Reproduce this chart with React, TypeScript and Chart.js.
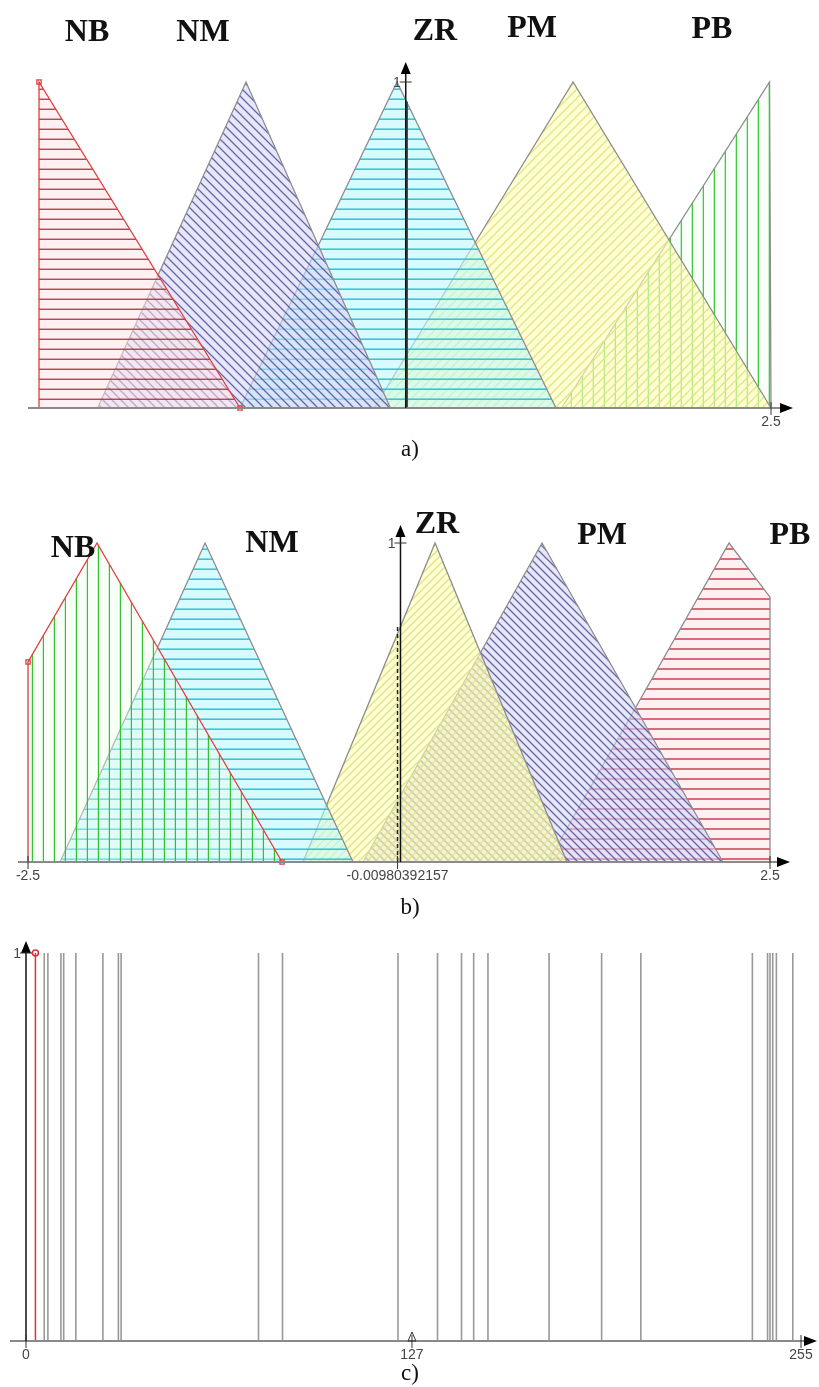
import React, { useEffect, useRef } from 'react';
import { Chart, registerables } from 'chart.js';
Chart.register(...registerables);

type P = [number, number];

// ---------- Panel a) : input fuzzy sets (x, membership) ----------
const aLabels = ['NB', 'NM', 'ZR', 'PM', 'PB'];
const aNB: P[] = [[-2.5, 0], [-2.5, 1], [-1.127, 0]];
const aNM: P[] = [[-2.1, 0], [-1.086, 1], [-0.1, 0]];
const aZR: P[] = [[-1.127, 0], [-0.055, 1], [1.031, 0]];
const aPM: P[] = [[-0.21, 0], [1.148, 1], [2.5, 0]];
const aPB: P[] = [[1.07, 0], [2.49, 1], [2.5, 0]];
const aCrisp: P[] = [[0.012, 0], [0.012, 0.94]];
const aXTicks = [{ v: 2.5, label: '2.5' }];
const aYTicks = [{ v: 1, label: '1' }];

// ---------- Panel b) : output fuzzy sets ----------
const bLabels = ['NB', 'NM', 'ZR', 'PM', 'PB'];
const bNB: P[] = [[-2.5, 0], [-2.5, 0.627], [-2.035, 1], [-0.788, 0]];
const bNM: P[] = [[-2.284, 0], [-1.307, 1], [-0.31, 0]];
const bZR: P[] = [[-0.647, 0], [0.243, 1], [1.132, 0]];
const bPM: P[] = [[-0.243, 0], [0.964, 1], [2.183, 0]];
const bPB: P[] = [[1.004, 0], [2.224, 1], [2.5, 0.83], [2.5, 0]];
const bCrisp: P[] = [[-0.0098, 0], [-0.0098, 0.74]];
const bXTicks = [
  { v: -2.5, label: '-2.5' },
  { v: -0.0098, label: '-0.00980392157' },
  { v: 2.5, label: '2.5' },
];
const bYTicks = [{ v: 1, label: '1' }];

// ---------- Panel c) : singleton outputs 0..255 ----------
const cSpikes = [6, 7.2, 11.5, 12.4, 16.4, 25.3, 30.4, 31.3, 76.5, 84.4, 122.4, 135.4, 143.3, 147.3, 152, 172.1, 189.4, 202.3, 239, 244, 244.8, 245.7, 246.9, 252.3];
const cActive = [3.1];
const cXTicks = [
  { v: 0, label: '0' },
  { v: 127, label: '127' },
  { v: 255, label: '255' },
];
const cYTicks = [{ v: 1, label: '1' }];

type Kind = 'h' | 'v' | 'up' | 'down';
function hatch(ctx: CanvasRenderingContext2D, fill: string, line: string, kind: Kind, gap: number, lw = 1.4) {
  const c = document.createElement('canvas');
  c.width = gap;
  c.height = gap;
  const g = c.getContext('2d')!;
  g.fillStyle = fill;
  g.fillRect(0, 0, gap, gap);
  g.strokeStyle = line;
  g.lineWidth = lw;
  g.beginPath();
  if (kind === 'h') {
    g.moveTo(0, gap - 1);
    g.lineTo(gap, gap - 1);
  } else if (kind === 'v') {
    g.moveTo(gap - 1, 0);
    g.lineTo(gap - 1, gap);
  } else if (kind === 'up') {
    g.moveTo(-1, gap + 1);
    g.lineTo(gap + 1, -1);
    g.moveTo(-1, 1);
    g.lineTo(1, -1);
    g.moveTo(gap - 1, gap + 1);
    g.lineTo(gap + 1, gap - 1);
  } else {
    g.moveTo(-1, -1);
    g.lineTo(gap + 1, gap + 1);
    g.moveTo(gap - 1, -1);
    g.lineTo(gap + 1, 1);
    g.moveTo(-1, gap - 1);
    g.lineTo(1, gap + 1);
  }
  g.stroke();
  return ctx.createPattern(c, 'repeat')!;
}

const decoPlugin = {
  id: 'deco',
  afterDatasetsDraw(chart: any, _args: any, o: any) {
    const ctx: CanvasRenderingContext2D = chart.ctx;
    const xs = chart.scales.x;
    const ys = chart.scales.y;
    const ca = chart.chartArea;
    const y0 = ys.getPixelForValue(0);
    const y1 = ys.getPixelForValue(1);
    const ax = xs.getPixelForValue(o.yAxisAt);
    ctx.save();
    // x axis
    const xl = ca.left - o.extLeft;
    const xr = ca.right + o.extRight;
    ctx.strokeStyle = o.xAxisColor;
    ctx.lineWidth = 2;
    ctx.beginPath();
    ctx.moveTo(xl, y0);
    ctx.lineTo(xr - 8, y0);
    ctx.stroke();
    ctx.fillStyle = '#000';
    ctx.beginPath();
    ctx.moveTo(xr, y0);
    ctx.lineTo(xr - 13, y0 - 5);
    ctx.lineTo(xr - 13, y0 + 5);
    ctx.closePath();
    ctx.fill();
    // y axis
    const yt = y1 - o.extTop;
    ctx.strokeStyle = '#111';
    ctx.lineWidth = 1.5;
    ctx.beginPath();
    ctx.moveTo(ax, y0);
    ctx.lineTo(ax, yt + 8);
    ctx.stroke();
    ctx.beginPath();
    ctx.moveTo(ax, yt);
    ctx.lineTo(ax - 5, yt + 12);
    ctx.lineTo(ax + 5, yt + 12);
    ctx.closePath();
    ctx.fill();
    ctx.font = '14px "Liberation Sans", Arial, sans-serif';
    ctx.fillStyle = '#444';
    ctx.strokeStyle = '#333';
    ctx.lineWidth = 1;
    for (const t of o.yTicks) {
      const py = ys.getPixelForValue(t.v);
      ctx.beginPath();
      ctx.moveTo(ax - 6, py);
      ctx.lineTo(ax + 6, py);
      ctx.stroke();
      ctx.textAlign = 'right';
      ctx.textBaseline = 'middle';
      ctx.fillText(t.label, ax - 5, py + 1);
    }
    for (const t of o.xTicks) {
      const px = xs.getPixelForValue(t.v);
      ctx.beginPath();
      ctx.moveTo(px, y0 - 6);
      ctx.lineTo(px, y0 + 7);
      ctx.stroke();
      ctx.textAlign = 'center';
      ctx.textBaseline = 'top';
      ctx.fillText(t.label, px, y0 + 7);
    }
    if (o.marker != null) {
      const px = xs.getPixelForValue(o.marker);
      ctx.strokeStyle = '#333';
      ctx.beginPath();
      ctx.moveTo(px, y0 - 9);
      ctx.lineTo(px - 4, y0);
      ctx.lineTo(px + 4, y0);
      ctx.closePath();
      ctx.stroke();
    }
    ctx.restore();
  },
};

interface PanelProps {
  top: number;
  height: number;
  padding: { left: number; right: number; top: number; bottom: number };
  xMin: number;
  xMax: number;
  build: (ctx: CanvasRenderingContext2D) => any[];
  deco: any;
}

function Panel({ top, height, padding, xMin, xMax, build, deco }: PanelProps) {
  const ref = useRef<HTMLCanvasElement>(null);
  useEffect(() => {
    const canvas = ref.current!;
    const ctx = canvas.getContext('2d')!;
    const chart = new Chart(ctx, {
      type: 'line',
      data: { datasets: build(ctx) },
      options: {
        responsive: false,
        animation: false,
        events: [],
        layout: { padding },
        scales: {
          x: { type: 'linear', min: xMin, max: xMax, display: false },
          y: { type: 'linear', min: 0, max: 1, display: false },
        },
        plugins: {
          legend: { display: false },
          tooltip: { enabled: false },
          deco,
        } as any,
      },
      plugins: [decoPlugin],
    });
    return () => chart.destroy();
  }, []);
  return (
    <canvas
      ref={ref}
      width={819}
      height={height}
      style={{ position: 'absolute', left: 0, top, width: 819, height }}
    />
  );
}

const pts = (p: P[]) => p.map(([x, y]) => ({ x, y }));

function setDs(data: P[], pattern: CanvasPattern, border = '#8c8c8c', extra: any = {}) {
  return {
    data: pts(data),
    borderColor: border,
    borderWidth: 1.3,
    backgroundColor: pattern,
    fill: 'origin',
    pointRadius: 0,
    tension: 0,
    clip: false,
    ...extra,
  };
}

const buildA = (ctx: CanvasRenderingContext2D) => [
  {
    data: pts(aCrisp),
    borderColor: '#4a4a4a',
    borderWidth: 2.5,
    pointRadius: 0,
    fill: false,
    clip: false,
  },
  setDs(aNB, hatch(ctx, 'rgba(255,228,232,0.55)', 'rgba(170,40,60,0.85)', 'h', 10.3, 1.5), '#e23c3c', {
    pointRadius: [0, 3, 3],
    pointStyle: 'rect',
    pointBorderColor: '#e23c3c',
    pointBackgroundColor: 'rgba(255,255,255,0)',
  }),
  setDs(aNM, hatch(ctx, 'rgba(215,215,250,0.6)', 'rgba(80,80,150,0.85)', 'down', 9, 1.3)),
  setDs(aZR, hatch(ctx, 'rgba(190,248,252,0.6)', 'rgba(45,195,212,0.95)', 'h', 10.3, 1.8)),
  setDs(aPM, hatch(ctx, 'rgba(255,255,185,0.6)', 'rgba(228,228,130,0.95)', 'up', 9, 1.4)),
  setDs(aPB, hatch(ctx, 'rgba(235,255,235,0.3)', 'rgba(55,200,55,0.95)', 'v', 11.6, 1.8)),
];

const buildB = (ctx: CanvasRenderingContext2D) => [
  {
    data: pts(bCrisp),
    borderColor: '#222',
    borderWidth: 1.5,
    borderDash: [4, 3],
    pointRadius: 0,
    fill: false,
    clip: false,
  },
  setDs(bNB, hatch(ctx, 'rgba(235,255,235,0.4)', 'rgba(40,190,40,0.95)', 'v', 11.7, 1.8), '#e23c3c', {
    pointRadius: [0, 3, 0, 3],
    pointStyle: 'rect',
    pointBorderColor: '#e23c3c',
    pointBackgroundColor: 'rgba(255,255,255,0)',
  }),
  setDs(bNM, hatch(ctx, 'rgba(190,248,252,0.6)', 'rgba(45,195,212,0.95)', 'h', 10.3, 1.8)),
  setDs(bZR, hatch(ctx, 'rgba(255,255,185,0.6)', 'rgba(225,225,130,0.95)', 'up', 8, 1.4)),
  setDs(bPM, hatch(ctx, 'rgba(215,215,250,0.6)', 'rgba(80,80,150,0.85)', 'down', 8, 1.3)),
  setDs(bPB, hatch(ctx, 'rgba(255,228,232,0.55)', 'rgba(195,45,65,0.85)', 'h', 10, 1.6)),
];

const buildC = (_ctx: CanvasRenderingContext2D) => [
  {
    data: cActive.flatMap((v) => [{ x: v, y: 0 }, { x: v, y: 1 }]),
    borderColor: '#e03030',
    borderWidth: 1.5,
    pointRadius: [0, 3],
    pointStyle: 'circle',
    pointBorderColor: '#e03030',
    pointBackgroundColor: 'rgba(255,255,255,0)',
    fill: false,
    clip: false,
  },
  {
    data: cSpikes.flatMap((v) => [{ x: v, y: 0 }, { x: v, y: 1 }, { x: v, y: null }]),
    borderColor: '#999999',
    borderWidth: 1.6,
    pointRadius: 0,
    spanGaps: false,
    fill: false,
    clip: false,
  },
];

const labelStyle = (x: number, y: number): React.CSSProperties => ({
  position: 'absolute',
  left: x,
  top: y,
  transform: 'translate(-50%, -50%)',
  font: 'bold 32px "Liberation Serif", "Times New Roman", serif',
  color: '#111',
  whiteSpace: 'nowrap',
  lineHeight: 1,
});

const capStyle = (x: number, y: number): React.CSSProperties => ({
  position: 'absolute',
  left: x,
  top: y,
  transform: 'translate(-50%, -50%)',
  font: '23px "Liberation Serif", "Times New Roman", serif',
  color: '#111',
  lineHeight: 1,
});

const aLabelPos: P[] = [[87, 30], [203, 30], [435, 29], [532, 26], [712, 27]];
const bLabelPos: P[] = [[73, 546], [272, 541], [437, 522], [602, 533], [790, 533]];

export default function App() {
  return (
    <div style={{ position: 'absolute', left: 0, top: 0, width: 819, height: 1387, background: '#fff', overflow: 'hidden' }}>
      <Panel
        top={0}
        height={460}
        padding={{ left: 39, right: 48, top: 82, bottom: 52 }}
        xMin={-2.5}
        xMax={2.5}
        build={buildA}
        deco={{ yAxisAt: 0.005, extLeft: 11, extRight: 22, extTop: 20, xAxisColor: '#8a8a8a', xTicks: aXTicks, yTicks: aYTicks, marker: null }}
      />
      <Panel
        top={460}
        height={460}
        padding={{ left: 28, right: 49, top: 83, bottom: 58 }}
        xMin={-2.5}
        xMax={2.5}
        build={buildB}
        deco={{ yAxisAt: 0.01, extLeft: 10, extRight: 20, extTop: 18, xAxisColor: '#8a8a8a', xTicks: bXTicks, yTicks: bYTicks, marker: null }}
      />
      <Panel
        top={920}
        height={467}
        padding={{ left: 26, right: 18, top: 33, bottom: 46 }}
        xMin={0}
        xMax={255}
        build={buildC}
        deco={{ yAxisAt: 0, extLeft: 16, extRight: 16, extTop: 12, xAxisColor: '#8a8a8a', xTicks: cXTicks, yTicks: cYTicks, marker: 127 }}
      />
      {aLabels.map((t, i) => (
        <div key={'a' + t} style={labelStyle(aLabelPos[i][0], aLabelPos[i][1])}>{t}</div>
      ))}
      {bLabels.map((t, i) => (
        <div key={'b' + t} style={labelStyle(bLabelPos[i][0], bLabelPos[i][1])}>{t}</div>
      ))}
      <div style={capStyle(410, 448)}>a)</div>
      <div style={capStyle(410, 906)}>b)</div>
      <div style={capStyle(410, 1372)}>c)</div>
    </div>
  );
}
